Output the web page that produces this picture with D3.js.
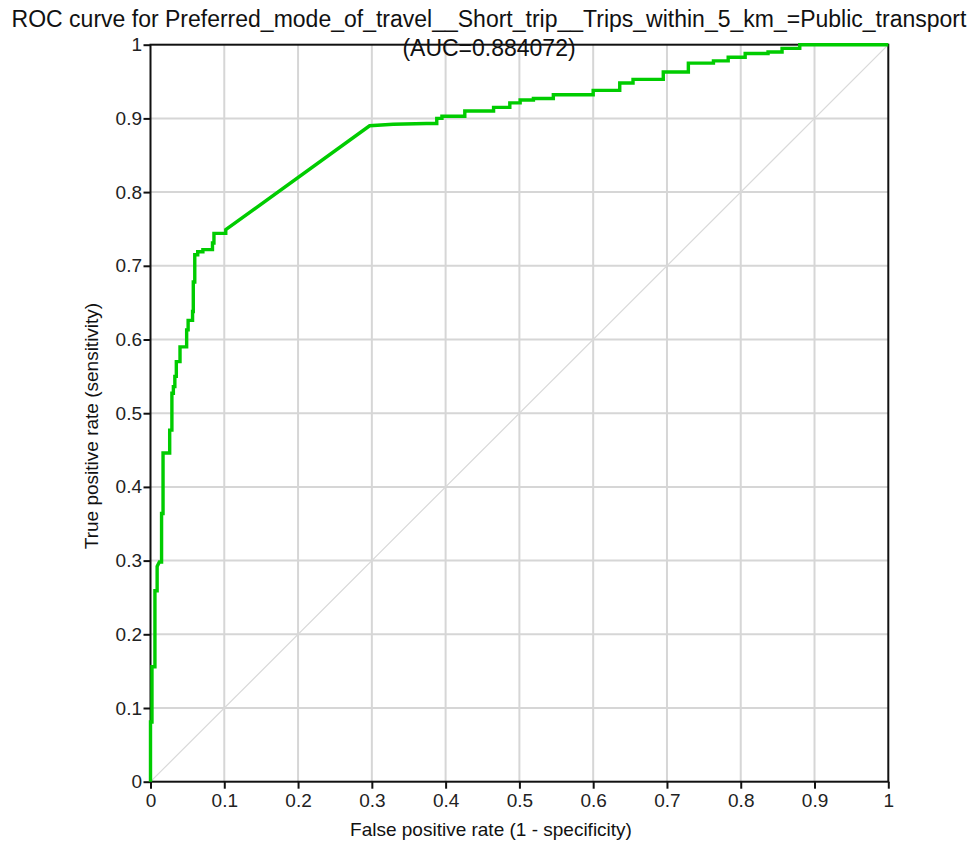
<!DOCTYPE html>
<html>
<head>
<meta charset="utf-8">
<script src="https://cdn.jsdelivr.net/npm/d3@7"></script>
<style>
  html, body { margin: 0; padding: 0; background: #fff; }
  svg { display: block; font-family: "Liberation Sans", Arial, sans-serif; }
</style>
</head>
<body>
<div id="chart"></div>
<script>
// ---- data ----
const titleLines = [
  'ROC curve for Preferred_mode_of_travel__Short_trip__Trips_within_5_km_=Public_transport',
  '(AUC=0.884072)'
];
const xLabel = 'False positive rate (1 - specificity)';
const yLabel = 'True positive rate (sensitivity)';
const tickValues = [0, 0.1, 0.2, 0.3, 0.4, 0.5, 0.6, 0.7, 0.8, 0.9, 1];
const tickLabels = ['0', '0.1', '0.2', '0.3', '0.4', '0.5', '0.6', '0.7', '0.8', '0.9', '1'];

// ROC curve vertices (false positive rate, true positive rate)
const fpr = [
  0, 0, 0.002, 0.002, 0.006, 0.006, 0.009, 0.009, 0.012, 0.015, 0.015, 0.017, 0.017,
  0.026, 0.026, 0.029, 0.029, 0.031, 0.031, 0.033, 0.033, 0.035, 0.035, 0.040, 0.040,
  0.049, 0.049, 0.051, 0.051, 0.057, 0.057, 0.058, 0.058, 0.060, 0.060, 0.064, 0.064,
  0.071, 0.071, 0.084, 0.084, 0.086, 0.086, 0.102, 0.102,
  0.297, 0.329, 0.374, 0.388, 0.388, 0.395, 0.395, 0.426, 0.426, 0.465, 0.465,
  0.487, 0.487, 0.501, 0.501, 0.519, 0.519, 0.546, 0.546, 0.600, 0.600, 0.636, 0.636,
  0.654, 0.654, 0.695, 0.695, 0.729, 0.729, 0.763, 0.763, 0.783, 0.783, 0.806, 0.806,
  0.837, 0.837, 0.856, 0.856, 0.880, 0.880, 1.0
];
const tpr = [
  0, 0.081, 0.081, 0.156, 0.156, 0.259, 0.259, 0.292, 0.298, 0.298, 0.364, 0.364, 0.446,
  0.446, 0.477, 0.477, 0.527, 0.527, 0.536, 0.536, 0.550, 0.550, 0.570, 0.570, 0.590,
  0.590, 0.613, 0.613, 0.626, 0.626, 0.638, 0.638, 0.678, 0.678, 0.715, 0.715, 0.719,
  0.719, 0.722, 0.722, 0.731, 0.731, 0.744, 0.744, 0.749,
  0.890, 0.892, 0.893, 0.893, 0.900, 0.900, 0.903, 0.903, 0.910, 0.910, 0.915,
  0.915, 0.921, 0.921, 0.925, 0.925, 0.927, 0.927, 0.932, 0.932, 0.938, 0.938, 0.948,
  0.948, 0.953, 0.953, 0.963, 0.963, 0.975, 0.975, 0.978, 0.978, 0.983, 0.983, 0.988,
  0.988, 0.990, 0.990, 0.995, 0.995, 1.0, 1.0
];
const diagonal = [0, 1];

// ---- layout ----
const width = 975, height = 845;
const margin = { top: 44.7, right: 86.7, bottom: 63.3, left: 150.5 };
const innerWidth = width - margin.left - margin.right;
const innerHeight = height - margin.top - margin.bottom;

const svg = d3.select('#chart').append('svg')
  .attr('width', width)
  .attr('height', height)
  .attr('viewBox', `0 0 ${width} ${height}`);

const g = svg.append('g').attr('transform', `translate(${margin.left},${margin.top})`);

const x = d3.scaleLinear().domain([0, 1]).range([0, innerWidth]);
const y = d3.scaleLinear().domain([0, 1]).range([innerHeight, 0]);

// gridlines
const inner = tickValues.filter(v => v > 0 && v < 1);
g.append('g').selectAll('line').data(inner).join('line')
  .attr('x1', d => x(d)).attr('x2', d => x(d))
  .attr('y1', 0).attr('y2', innerHeight)
  .attr('stroke', '#d6d6d6').attr('stroke-width', 2);
g.append('g').selectAll('line').data(inner).join('line')
  .attr('y1', d => y(d)).attr('y2', d => y(d))
  .attr('x1', 0).attr('x2', innerWidth)
  .attr('stroke', '#d6d6d6').attr('stroke-width', 2);

// diagonal reference
g.append('line')
  .attr('x1', x(diagonal[0])).attr('y1', y(diagonal[0]))
  .attr('x2', x(diagonal[1])).attr('y2', y(diagonal[1]))
  .attr('stroke', '#d9d9d9').attr('stroke-width', 1.2);

// frame
g.append('rect')
  .attr('width', innerWidth).attr('height', innerHeight)
  .attr('fill', 'none').attr('stroke', '#111').attr('stroke-width', 2);

// axes
const fmt = d => tickLabels[tickValues.indexOf(d)];
const xAxis = g.append('g')
  .attr('transform', `translate(0,${innerHeight})`)
  .call(d3.axisBottom(x).tickValues(tickValues).tickFormat(fmt).tickSize(7).tickSizeOuter(0));
const yAxis = g.append('g')
  .call(d3.axisLeft(y).tickValues(tickValues).tickFormat(fmt).tickSize(7).tickSizeOuter(0));

[xAxis, yAxis].forEach(ax => {
  ax.select('.domain').remove();
  ax.selectAll('line').attr('stroke', '#111').attr('stroke-width', 2);
  ax.selectAll('text')
    .attr('fill', '#222')
    .attr('font-size', 19)
    .attr('font-family', '"Liberation Sans", Arial, sans-serif');
});
xAxis.selectAll('text').attr('y', 12);
yAxis.selectAll('text').attr('x', -8.5);

// ROC curve
const pts = fpr.map((f, i) => [f, tpr[i]]);
g.append('path')
  .datum(pts)
  .attr('fill', 'none')
  .attr('stroke', '#00cc00')
  .attr('stroke-width', 3.4)
  .attr('stroke-linejoin', 'miter')
  .attr('d', d3.line().x(d => x(d[0])).y(d => y(d[1])));

// title
svg.append('g').selectAll('text').data(titleLines).join('text')
  .attr('x', 489)
  .attr('y', (d, i) => 27 + i * 29)
  .attr('text-anchor', 'middle')
  .attr('font-size', 23)
  .attr('fill', '#111')
  .text(d => d);

// axis labels
svg.append('text')
  .attr('x', 491).attr('y', 836)
  .attr('text-anchor', 'middle')
  .attr('font-size', 19)
  .attr('fill', '#111')
  .text(xLabel);

svg.append('text')
  .attr('transform', 'translate(98,426) rotate(-90)')
  .attr('text-anchor', 'middle')
  .attr('font-size', 19)
  .attr('fill', '#111')
  .text(yLabel);
</script>
</body>
</html>
